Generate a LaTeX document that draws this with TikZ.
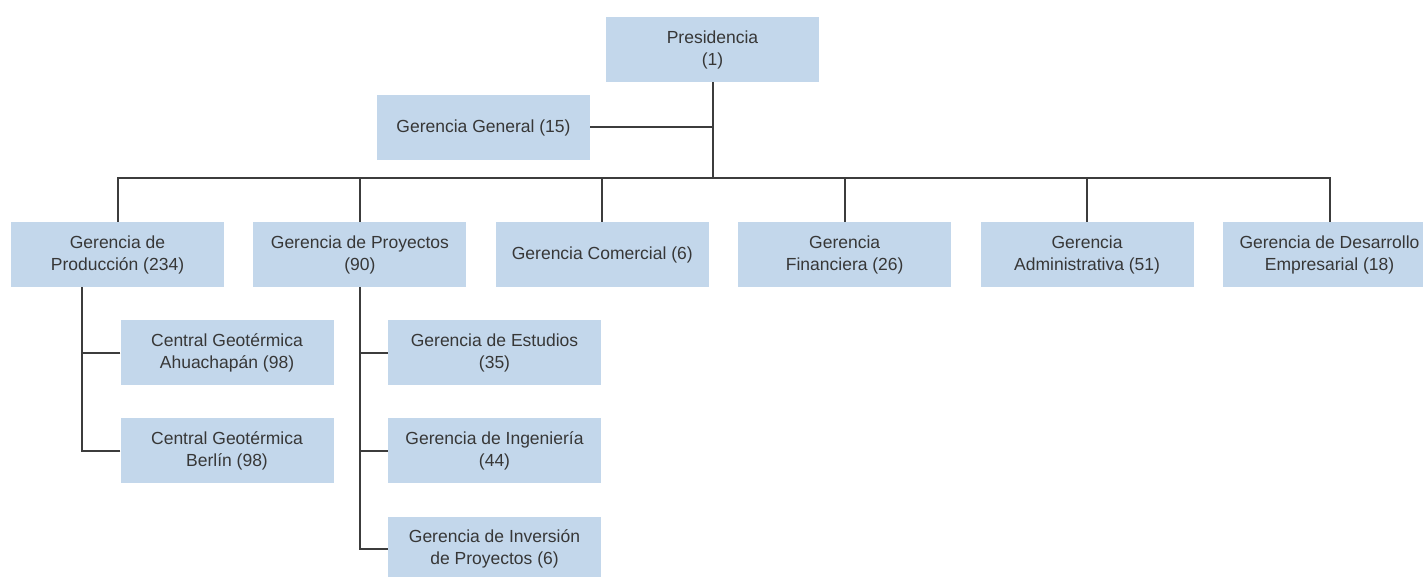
\documentclass[tikz,border=0pt]{standalone}
\usepackage{fontspec}
\setmainfont{Liberation Sans}
\usetikzlibrary{positioning}
\definecolor{boxblue}{RGB}{195,215,235}
\definecolor{linegray}{RGB}{60,60,60}
\definecolor{textgray}{RGB}{55,55,55}

\begin{document}
\begin{tikzpicture}[x=1pt,y=-1pt]
    \tikzstyle{unit} = [rectangle, fill=boxblue, text=textgray, minimum width=213pt, minimum height=65pt, inner sep=0pt, align=center, font=\fontsize{17.5}{22}\selectfont]
    \tikzstyle{conn} = [draw=linegray, line width=2pt]
    \useasboundingbox (0,0) rectangle (1423,577);
    \clip (0,0) rectangle (1423,577);
    \node (pres) [unit] at (712.5,49.5) {Presidencia\\(1)};
    \node (gral) [unit] at (483.5,127.5) {Gerencia General (15)};
    \node (prod) [unit] at (117.5,254.5) {Gerencia de\\Producción (234)};
    \node (proy) [unit, right=29pt of prod] {Gerencia de Proyectos\\(90)};
    \node (com) [unit, right=29pt of proy] {Gerencia Comercial (6)};
    \node (fin) [unit, right=29pt of com] {Gerencia\\Financiera (26)};
    \node (adm) [unit, right=29pt of fin] {Gerencia\\Administrativa (51)};
    \node (des) [unit, right=29pt of adm] {Gerencia de Desarrollo\\Empresarial (18)};
    \node (geoA) [unit] at (227,352.5) {Central Geotérmica\\Ahuachapán (98)};
    \node (geoB) [unit, below=33pt of geoA] {Central Geotérmica\\Berlín (98)};
    \node (est) [unit] at (494.5,352.5) {Gerencia de Estudios\\(35)};
    \node (ing) [unit, below=33pt of est] {Gerencia de Ingeniería\\(44)};
    \node (inv) [unit, below=33pt of ing] {Gerencia de Inversión\\de Proyectos (6)};
    \coordinate (bus) at (712.5,178);
    \coordinate (prodtop) at ([xshift=-35.5pt]prod.south);
    \draw [conn] (pres.south) -- (bus);
    \draw [conn] (gral.east) -| (pres.south);
    \foreach \n in {prod,proy,com,fin,adm,des}
        \draw [conn] (\n.north) |- (bus);
    \draw [conn] (geoA.west) -| (prodtop);
    \draw [conn] (geoB.west) -| (prodtop);
    \draw [conn] (est.west) -| (proy.south);
    \draw [conn] (ing.west) -| (proy.south);
    \draw [conn] (inv.west) -| (proy.south);
\end{tikzpicture}
\end{document}
